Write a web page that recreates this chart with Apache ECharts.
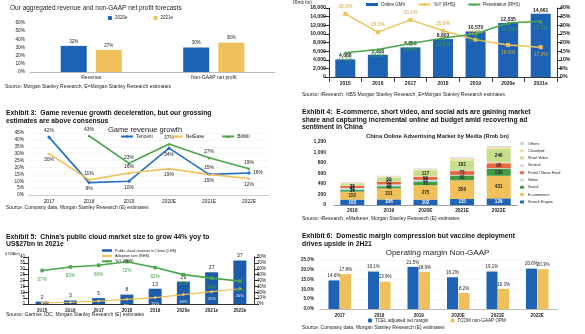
<!DOCTYPE html>
<html><head><meta charset="utf-8">
<script src="https://cdn.jsdelivr.net/npm/echarts/dist/echarts.min.js"></script>
<style>body{margin:0;background:#fff;width:585px;height:334px;overflow:hidden;position:relative}.p{position:absolute}</style>
</head><body>
<div id="c1" class="p" style="left:0;top:0;width:290px;height:100px"></div>
<div id="c2" class="p" style="left:290px;top:0;width:295px;height:100px"></div>
<div id="c3" class="p" style="left:0;top:100px;width:290px;height:115px"></div>
<div id="c4" class="p" style="left:290px;top:100px;width:295px;height:115px"></div>
<div id="c5" class="p" style="left:0;top:215px;width:290px;height:119px"></div>
<div id="c6" class="p" style="left:290px;top:215px;width:295px;height:119px"></div>
<script>
// ---------- data ----------
const p1Categories = ['Revenue', 'Non-GAAP net profit'];
const p1Values2020 = [0.32, 0.30];
const p1Values2021 = [0.27, 0.36];

const p2Years = ['2015', '2016', '2017', '2018', '2019', '2020e', '2021e'];
const p2Gmv = [4088, 5158, 6859, 8803, 10570, 12535, 14661];
const p2Yoy = [0.366, 0.260, 0.331, 0.268, 0.216, 0.186, 0.173];
const p2Penetration = [0.141, 0.160, 0.194, 0.225, 0.251, 0.313, 0.323];

const p3Years = ['2017', '2018', '2019', '2020E', '2021E', '2022E'];
const p3Tencent = [0.42, 0.09, 0.10, 0.34, 0.15, 0.16];
const p3NetEase = [0.30, 0.11, 0.16, 0.19, 0.15, 0.12];
const p3Bilibili = [null, 0.43, 0.23, 0.37, 0.27, 0.19];

const p4Years = ['2018', '2019', '2020E', '2021E', '2022E'];
const p4Search = [103, 106, 102, 115, 126];
const p4Ecommerce = [152, 211, 275, 356, 431];
const p4Social = [30, 40, 71, 90, 130];
const p4Video = [41, 35, 31, 12, 13];
const p4Portal = [38, 52, 56, 73, 95];
const p4Vertical = [10, 10, 10, 22, 25];
const p4ShortVideo = [25, 69, 117, 181, 246];
const p4Classified = [24, 22, 20, 40, 40];
const p4Others = [12, 12, 13, 19, 19];

const p5Years = ['2015', '2016', '2017', '2018', '2019', '2020e', '2021e', '2022e'];
const p5Revenue = [2, 3, 5, 8, 13, 19, 27, 37];
const p5Adoption = [0.02, 0.03, 0.05, 0.08, 0.11, 0.16, 0.21, 0.26];
const p5Yoy = [0.57, 0.63, 0.66, 0.72, 0.62, 0.50, 0.44, 0.39];

const p6Years = ['2017', '2018', '2019', '2020E', '2021E', '2022E'];
const p6Tcel = [0.146, 0.191, 0.215, 0.162, 0.191, 0.206];
const p6Tcom = [0.178, 0.139, 0.189, 0.082, 0.103, 0.203];

// ---------- styling helpers ----------
const F = '"Liberation Sans", Arial, sans-serif';
const BLUE = '#1d62b5', GOLD = '#f0c05a', GREEN = '#4aa64a';
const pct0 = v => Math.round(v * 100) + '%';
const pct1 = v => (v * 100).toFixed(1) + '%';
const G = (o) => Object.assign({containLabel: false, outerBoundsMode: 'none'}, o);

function txt(text, left, top, size, extra) {
  return Object.assign({text, left, top, padding: 0,
    textStyle: {fontSize: size, fontWeight: 'normal', color: '#222', fontFamily: F, lineHeight: size + 1}}, extra || {});
}
function heading(ex, l1, rest, left, top) {
  const st = {fontSize: 6.8, color: '#111', lineHeight: 7.2, fontFamily: F};
  const lines = rest.map(s => '{n|' + s + '}').join('\n');
  return {text: '{b|' + ex + '}{n|  ' + l1 + '}' + (rest.length ? '\n' + lines : ''), left, top, padding: 0,
    textStyle: {rich: {b: Object.assign({fontWeight: 'bold'}, st), n: st}}};
}
const axLab = (size, extra) => Object.assign({fontSize: size, color: '#222', fontFamily: F}, extra || {});

// ---------- panel 1 ----------
echarts.init(document.getElementById('c1')).setOption({
  animation: false, textStyle: {fontFamily: F},
  title: [txt('Our aggregated revenue and non-GAAP net profit forecasts', 10, 4.5, 6.5),
          txt('Source: Morgan Stanley Research, E=Morgan Stanley Research estimates', 5, 83.5, 5)],
  legend: {data: ['2020e', '2021e'], left: 108, top: 15.5, padding: 0, itemWidth: 4, itemHeight: 4, itemGap: 26,
    textStyle: {fontSize: 4.5, color: '#222', padding: [0, 0, 0, -2]}},
  grid: G({left: 30, right: 15, top: 23, bottom: 28}),
  xAxis: {type: 'category', data: p1Categories, axisLine: {lineStyle: {color: '#bbb'}}, axisTick: {show: false},
    axisLabel: axLab(5, {margin: 3})},
  yAxis: {type: 'value', min: 0, max: 0.6, interval: 0.1, axisLine: {show: false}, axisTick: {show: false}, splitLine: {show: false},
    axisLabel: axLab(4.8, {formatter: pct0, margin: 5})},
  series: [
    {name: '2020e', type: 'bar', data: p1Values2020, barWidth: 26, barGap: '35%', itemStyle: {color: BLUE},
      label: {show: true, position: 'top', distance: 2, formatter: p => pct0(p.value), fontSize: 4.5, color: '#222'}},
    {name: '2021e', type: 'bar', data: p1Values2021, barWidth: 26, itemStyle: {color: GOLD},
      label: {show: true, position: 'top', distance: 2, formatter: p => pct0(p.value), fontSize: 4.5, color: '#222'}}
  ]
});

// ---------- panel 2 ----------
echarts.init(document.getElementById('c2')).setOption({
  animation: false, textStyle: {fontFamily: F},
  title: [txt('(Rmb bn)', 3, 0, 4.5),
          txt('Source: iResearch, NBS Morgan Stanley Research, E=Morgan Stanley Research estimates', 12, 91.5, 5)],
  legend: {data: [{name: 'Online GMV', icon: 'rect'}, 'YoY (RHS)', 'Penetration (RHS)'], left: 76, top: 2, padding: 0,
    itemWidth: 12, itemHeight: 3, itemGap: 12, textStyle: {fontSize: 4.5, color: '#222', padding: [0, 0, 0, -2]}},
  grid: G({left: 39, right: 28, top: 8, bottom: 23}),
  xAxis: {type: 'category', data: p2Years, axisLine: {lineStyle: {color: '#333'}}, axisTick: {show: true, lineStyle: {color: '#333'}},
    axisLabel: axLab(5, {fontWeight: 'bold', margin: 4})},
  yAxis: [
    {type: 'value', min: 0, max: 16000, interval: 2000, splitLine: {show: false}, axisLine: {show: true, lineStyle: {color: '#333'}},
      axisTick: {show: true}, axisLabel: axLab(5.2, {fontWeight: 'bold', formatter: v => v.toLocaleString('en-US'), margin: 3})},
    {type: 'value', min: 0, max: 0.4, interval: 0.05, splitLine: {show: false}, axisLine: {show: true, lineStyle: {color: '#333'}},
      axisTick: {show: true}, axisLabel: axLab(5.2, {fontWeight: 'bold', formatter: pct0, margin: 3})}
  ],
  series: [
    {name: 'Online GMV', type: 'bar', data: p2Gmv, barWidth: 20, itemStyle: {color: BLUE},
      label: {show: true, position: 'top', distance: 1, formatter: p => p.value.toLocaleString('en-US'), fontSize: 5, fontWeight: 'bold', color: '#222'}},
    {name: 'YoY (RHS)', type: 'line', yAxisIndex: 1, data: p2Yoy.map((v, i) => ({value: v, label: {position: i >= 5 ? 'bottom' : 'top'}})),
      symbol: 'rect', symbolSize: 4, lineStyle: {width: 1.5, color: GOLD}, itemStyle: {color: GOLD},
      label: {show: true, distance: 3, formatter: p => pct1(p.value), fontSize: 5, color: '#d9a532'}},
    {name: 'Penetration (RHS)', type: 'line', yAxisIndex: 1, data: p2Penetration,
      symbol: 'triangle', symbolSize: 4, lineStyle: {width: 1.5, color: GREEN}, itemStyle: {color: GREEN},
      label: {show: true, position: 'bottom', distance: 2, formatter: p => pct1(p.value), fontSize: 5, color: '#3c9a3c'}}
  ]
});

// ---------- panel 3 ----------
const p3Pos = {
  t: ['top', 'bottom', 'bottom', 'bottom', 'top', 'right'],
  n: ['bottom', 'top', 'top', 'bottom', 'bottom', 'bottom'],
  b: ['top', 'top', 'top', 'top', 'top', 'top']
};
const p3Data = (arr, pos) => arr.map((v, i) => ({value: v, label: {position: pos[i]}}));
const p3Label = {show: true, distance: 2, formatter: p => pct0(p.value), fontSize: 5, color: '#222'};
echarts.init(document.getElementById('c3')).setOption({
  animation: false, textStyle: {fontFamily: F},
  title: [heading('Exhibit 3:', 'Game revenue growth deceleration, but our grossing', ['estimates are above consensus'], 6, 10),
          txt('Game revenue growth', 'center', 25.5, 7.5),
          txt('Source: Company data, Morgan Stanley Research (E) estimates', 6, 104.5, 5)],
  legend: {data: ['Tencent', 'NetEase', 'Bilibili'], left: 120, top: 34, padding: 0, itemWidth: 12, itemHeight: 4, itemGap: 17,
    textStyle: {fontSize: 4.8, color: '#222', padding: [0, 0, 0, -2]}},
  grid: G({left: 29, right: 21, top: 33, bottom: 20}),
  xAxis: {type: 'category', data: p3Years, boundaryGap: true, axisLine: {lineStyle: {color: '#ccc'}}, axisTick: {show: false},
    axisLabel: axLab(4.8, {margin: 4})},
  yAxis: {type: 'value', min: 0, max: 0.45, interval: 0.05, axisLine: {show: false}, axisTick: {show: false},
    splitLine: {lineStyle: {color: '#eee', width: 0.5}}, axisLabel: axLab(4.8, {formatter: pct0, margin: 5})},
  series: [
    {name: 'Tencent', type: 'line', data: p3Data(p3Tencent, p3Pos.t), symbol: 'diamond', symbolSize: 4,
      lineStyle: {width: 1.6, color: '#1f6fc5'}, itemStyle: {color: '#1f6fc5'}, label: p3Label},
    {name: 'NetEase', type: 'line', data: p3Data(p3NetEase, p3Pos.n), symbol: 'triangle', symbolSize: 3,
      lineStyle: {width: 1.6, color: GOLD}, itemStyle: {color: GOLD}, label: p3Label},
    {name: 'Bilibili', type: 'line', data: p3Data(p3Bilibili, p3Pos.b), symbol: 'triangle', symbolSize: 3,
      lineStyle: {width: 1.6, color: GREEN}, itemStyle: {color: GREEN}, label: p3Label}
  ]
});

// ---------- panel 4 ----------
const p4Defs = [
  ['Search Engine', p4Search, '#1f63b8', '#fff', 0],
  ['E-commerce', p4Ecommerce, '#f0c05a', '#222', 0],
  ['Social', p4Social, '#3f9c43', '#222', 25],
  ['Video', p4Video, '#bfe0f0', '#222', 30],
  ['Portal / News Feed', p4Portal, '#e8673c', '#222', 30],
  ['Vertical', p4Vertical, '#f3d4c4', '#222', 999],
  ['Short Video', p4ShortVideo, '#c6df8c', '#222', 60],
  ['Classified', p4Classified, '#f6e2a4', '#222', 999],
  ['Others', p4Others, '#c9d5ea', '#222', 999]
];
const p4Totals = p4Years.map((_, i) => p4Defs.reduce((s, d) => s + d[1][i], 0));
const p4Series = p4Defs.map(([name, data, color, lc, minShow]) => ({
  name, type: 'bar', stack: 'total', data, barWidth: 24, itemStyle: {color},
  label: {show: true, position: 'inside', fontSize: 4.6, fontWeight: 'bold', color: lc,
    formatter: p => (p.value >= minShow ? p.value : '')}
}));
p4Series.push({name: 'Total', type: 'line', data: p4Totals, symbol: 'none', lineStyle: {opacity: 0}, silent: true,
  label: {show: true, position: 'top', distance: 2, fontSize: 5, fontWeight: 'bold', color: '#222',
    formatter: p => p.value.toLocaleString('en-US')}});
echarts.init(document.getElementById('c4')).setOption({
  animation: false, textStyle: {fontFamily: F},
  title: [heading('Exhibit 4:', 'E-commerce, short video, and social ads are gaining market',
            ['share and capturing incremental online ad budget amid recovering ad', 'sentiment in China'], 12, 9),
          txt('China Online Advertising Market by Media (Rmb bn)', 'center', 33, 5.8,
            {textStyle: {fontSize: 5.8, fontWeight: 'bold', color: '#222', fontFamily: F, lineHeight: 7}})],
  legend: {data: ['Others', 'Classified', 'Short Video', 'Vertical', 'Portal / News Feed', 'Video', 'Social', 'E-commerce', 'Search Engine'],
    orient: 'vertical', left: 230, top: 41.5, padding: 0, itemWidth: 4, itemHeight: 3, itemGap: 3.3,
    textStyle: {fontSize: 3.8, color: '#222', padding: [0, 0, 0, -1]}},
  grid: G({left: 44, right: 68, top: 42, bottom: 10}),
  xAxis: {type: 'category', data: p4Years, axisLine: {lineStyle: {color: '#999'}}, axisTick: {show: false},
    axisLabel: axLab(4.8, {fontWeight: 'bold', margin: 3})},
  yAxis: {type: 'value', min: 0, max: 1200, interval: 200, axisLine: {show: false}, axisTick: {show: false}, splitLine: {show: false},
    axisLabel: axLab(5, {fontWeight: 'bold', formatter: v => v.toLocaleString('en-US'), margin: 8})},
  series: p4Series
});

// ---------- panel 5 ----------
echarts.init(document.getElementById('c5')).setOption({
  animation: false, textStyle: {fontFamily: F},
  title: [heading('Exhibit 5:', "China's public cloud market size to grow 44% yoy to", ['US$27bn in 2021e'], 6, 18.5),
          txt('(US$bn)', 5, 36, 4),
          txt('Source: Gartner, IDC, Morgan Stanley Research (E) estimates', 6, 96.5, 5)],
  legend: {data: [{name: 'Public cloud revenue in China (LHS)', icon: 'rect'}, 'Adoption rate (RHS)', 'YoY (RHS)'],
    orient: 'vertical', left: 101, top: 33.5, padding: 0, itemWidth: 10, itemHeight: 2.5, itemGap: 1.4,
    textStyle: {fontSize: 3.8, color: '#222', padding: [0, 0, 0, -2]}},
  grid: G({left: 28, right: 36, top: 42, bottom: 30}),
  xAxis: {type: 'category', data: p5Years, axisLine: {lineStyle: {color: '#333'}}, axisTick: {show: false},
    axisLabel: axLab(4.6, {fontWeight: 'bold', margin: 4})},
  yAxis: [
    {type: 'value', min: 0, max: 40, interval: 5, splitLine: {show: false}, axisLine: {show: true, lineStyle: {color: '#333'}},
      axisTick: {show: true}, axisLabel: axLab(4.6, {margin: 3})},
    {type: 'value', min: 0, max: 0.8, interval: 0.1, splitLine: {show: false}, axisLine: {show: true, lineStyle: {color: '#333'}},
      axisTick: {show: true}, axisLabel: axLab(4.6, {formatter: pct0, margin: 3})}
  ],
  series: [
    {name: 'Public cloud revenue in China (LHS)', type: 'bar', data: p5Revenue, barWidth: 13, itemStyle: {color: '#1c5cab'},
      label: {show: true, position: 'top', distance: 2, fontSize: 5, color: '#222'}},
    {name: 'Adoption rate (RHS)', type: 'line', yAxisIndex: 1, data: p5Adoption, symbol: 'diamond', symbolSize: 3.5,
      lineStyle: {width: 1.2, color: GOLD}, itemStyle: {color: GOLD},
      label: {show: true, position: 'bottom', distance: 3, formatter: p => pct0(p.value), fontSize: 4.2, color: '#e8eef8'}},
    {name: 'YoY (RHS)', type: 'line', yAxisIndex: 1, data: p5Yoy, symbol: 'rect', symbolSize: 3.5,
      lineStyle: {width: 1.6, color: GREEN}, itemStyle: {color: GREEN},
      label: {show: true, position: 'bottom', distance: 5, formatter: p => pct0(p.value), fontSize: 4.5, color: '#3c9a3c'}}
  ]
});

// ---------- panel 6 ----------
const p6Label = {show: true, position: 'top', distance: 2, formatter: p => pct1(p.value), fontSize: 4.5, color: '#222'};
echarts.init(document.getElementById('c6')).setOption({
  animation: false, textStyle: {fontFamily: F},
  title: [txt('Source: iResearch, eMarketer, Morgan Stanley Research (E) estimates', 12, 0.5, 5),
          heading('Exhibit 6:', 'Domestic margin compression but vaccine deployment', ['drives upside in 2H21'], 12, 18),
          txt('Operating margin Non-GAAP', 'center', 33.5, 8),
          txt('Source: Company data, Morgan Stanley Research (E) estimates', 12, 110, 5)],
  legend: {data: ['TCEL adjusted net margin', 'TCOM non-GAAP OPM'], left: 78, top: 103, padding: 0, itemWidth: 4, itemHeight: 4, itemGap: 22,
    textStyle: {fontSize: 4.6, color: '#222', padding: [0, 0, 0, -2]}},
  grid: G({left: 30, right: 28, top: 45, bottom: 25}),
  xAxis: {type: 'category', data: p6Years, axisLine: {lineStyle: {color: '#bbb'}}, axisTick: {show: false},
    axisLabel: axLab(4.6, {fontWeight: 'bold', margin: 4})},
  yAxis: {type: 'value', min: 0, max: 0.25, interval: 0.05, axisLine: {show: false}, axisTick: {show: false},
    splitLine: {lineStyle: {color: '#eee', width: 0.5}}, axisLabel: axLab(4.6, {fontWeight: 'bold', formatter: pct1, margin: 6})},
  series: [
    {name: 'TCEL adjusted net margin', type: 'bar', data: p6Tcel, barWidth: 11, barGap: '5%', itemStyle: {color: BLUE}, label: p6Label},
    {name: 'TCOM non-GAAP OPM', type: 'bar', data: p6Tcom, barWidth: 11, itemStyle: {color: GOLD}, label: p6Label}
  ]
});
</script>
</body></html>
